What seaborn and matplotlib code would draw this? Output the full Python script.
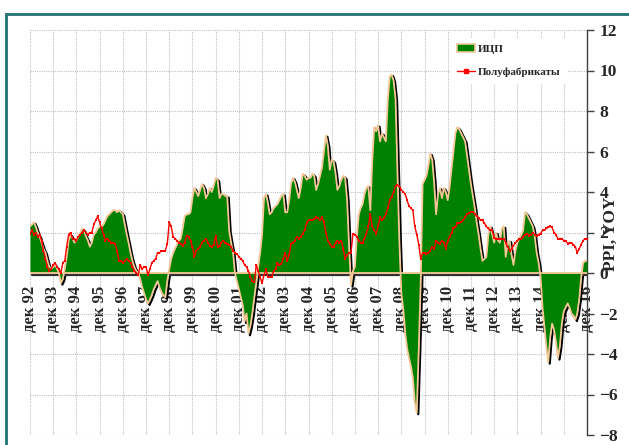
"""Producer prices (ИЦП) vs semi-finished goods (Полуфабрикаты), y/y, 1992-2016."""

import numpy as np
import pandas as pd
import matplotlib
matplotlib.use("Agg")
import matplotlib.pyplot as plt
import matplotlib.transforms as mtransforms
from matplotlib.lines import Line2D
from matplotlib.patches import Patch, Rectangle
import seaborn as sns

# monthly values, дек 92 .. дек 16
cpi = [
    2.3,  # дек 92
    2.4, 2.5, 2.3, 2.0, 1.8, 1.5, 1.2, 1.0, 0.6, 0.3, 0.2, 0.3,  # 1993
    0.4, 0.2, 0.0, -0.5, -0.3, 0.2, 0.8, 1.6, 1.9, 1.7, 1.5, 1.6,  # 1994
    1.8, 2.0, 2.2, 2.1, 1.8, 1.6, 1.3, 1.5, 1.9, 2.0, 2.2, 2.3,  # 1995
    2.3, 2.4, 2.6, 2.8, 2.9, 3.0, 3.1, 3.1, 3.0, 3.1, 3.0, 2.9,  # 1996
    2.4, 1.9, 1.5, 1.0, 0.6, 0.3, 0.1, 0.0, -0.3, -0.7, -1.0, -1.3,  # 1997
    -1.5, -1.3, -1.1, -0.8, -0.6, -0.4, -0.7, -0.95, -1.1, -1.2, -0.4, 0.2,  # 1998
    0.7, 1.0, 1.2, 1.4, 1.6, 1.7, 2.2, 2.8, 2.9, 2.9, 3.0, 3.7,  # 1999
    4.2, 4.0, 3.8, 4.1, 4.4, 4.2, 3.7, 3.9, 4.2, 4.0, 4.3, 4.7,  # 2000
    4.6, 3.7, 3.9, 3.9, 3.8, 3.8, 2.1, 1.5, 1.0, 0.0, -0.4, -0.8,  # 2001
    -1.2, -1.6, -2.4, -2.0, -3.0, -2.6, -2.0, -1.2, -0.5, 0.3, 1.0, 1.9,  # 2002
    3.7, 3.9, 3.5, 2.9, 3.0, 3.2, 3.3, 3.4, 3.6, 3.8, 3.9, 3.0,  # 2003
    3.0, 3.6, 4.4, 4.7, 4.5, 4.1, 3.7, 4.2, 4.9, 4.8, 4.6, 4.7,  # 2004
    4.7, 4.9, 4.8, 4.1, 4.4, 4.8, 5.2, 6.0, 6.8, 6.3, 5.1, 5.6,  # 2005
    5.5, 4.9, 4.1, 4.3, 4.6, 4.8, 4.7, 3.6, 1.3, -0.6, 0.1, 0.3,  # 2006
    1.8, 2.9, 3.2, 3.4, 3.9, 4.2, 4.3, 3.1, 5.6, 7.2, 7.0, 7.3,  # 2007
    6.5, 6.9, 6.7, 6.5, 8.5, 9.7, 9.8, 9.5, 8.6, 5.0, 1.5, -1.0,  # 2008
    -1.8, -3.0, -3.7, -4.2, -4.6, -5.2, -6.4, -6.9, -3.8, -0.6, 4.4, 4.6,  # 2009
    4.8, 5.3, 5.9, 5.6, 4.5, 2.9, 3.9, 4.2, 3.7, 4.2, 4.0, 3.6,  # 2010
    4.3, 5.2, 6.0, 6.9, 7.2, 7.1, 6.9, 6.7, 6.5, 5.8, 5.1, 4.4,  # 2011
    3.8, 3.2, 2.5, 1.9, 1.2, 0.6, 0.7, 0.8, 1.9, 2.3, 1.9, 1.5,  # 2012
    2.0, 1.6, 1.5, 2.2, 2.3, 0.8, 1.4, 1.6, 0.9, 0.4, 1.1, 1.5,  # 2013
    1.7, 1.9, 2.1, 3.0, 2.9, 2.7, 2.5, 2.3, 1.8, 1.0, 0.5, -0.2,  # 2014
    -1.7, -2.7, -3.6, -4.4, -3.2, -2.5, -2.8, -3.4, -4.2, -3.6, -2.5, -1.9,  # 2015
    -1.7, -1.5, -1.7, -2.0, -2.1, -2.3, -2.0, -1.3, -0.2, 0.5, 0.6, 0.6,  # 2016
]

semi = [
    1.95,  # дек 92
    2.1, 1.9, 2.0, 1.8, 1.9, 1.6, 1.1, 0.7, 0.3, 0.1, 0.2, 0.4,  # 1993
    0.5, 0.3, 0.2, 0.0, 0.5, 0.6, 1.3, 1.9, 2.0, 1.7, 1.7, 1.6,  # 1994
    1.8, 1.9, 2.0, 2.1, 2.0, 1.9, 2.0, 2.0, 2.4, 2.6, 2.8, 2.5,  # 1995
    2.2, 1.9, 1.6, 1.7, 1.6, 1.5, 1.5, 1.45, 1.1, 0.6, 0.6, 0.5,  # 1996
    0.6, 0.7, 0.6, 0.5, 0.3, 0.1, 0.0, -0.1, 0.4, 0.2, 0.3, 0.3,  # 1997
    -0.1, 0.2, 0.5, 0.6, 0.7, 1.0, 1.0, 1.1, 1.1, 1.1, 1.45, 2.5,  # 1998
    2.3, 1.8, 1.7, 1.6, 1.5, 1.45, 1.35, 1.5, 1.85, 1.8, 1.6, 1.3,  # 1999
    0.8, 1.1, 1.2, 1.3, 1.5, 1.6, 1.7, 1.5, 1.35, 1.3, 1.4, 1.85,  # 2000
    1.3, 1.35, 1.5, 1.6, 1.5, 1.45, 1.4, 1.3, 1.1, 1.0, 0.95, 0.8,  # 2001
    0.7, 0.6, 0.4, 0.3, 0.1, -0.2, -0.4, -0.45, 0.4, 0.1, -0.2, -0.5,  # 2002
    -0.1, 0.2, -0.2, -0.2, -0.2, 0.1, 0.2, 0.5, 0.4, 0.45, 0.7, 1.0,  # 2003
    0.6, 0.9, 1.45, 1.5, 1.6, 1.8, 1.7, 1.8, 1.95, 2.1, 2.45, 2.6,  # 2004
    2.6, 2.6, 2.65, 2.75, 2.7, 2.6, 2.75, 2.5, 2.0, 1.6, 1.45, 1.3,  # 2005
    1.3, 1.5, 1.6, 1.5, 1.6, 1.2, 0.7, 0.9, 1.0, 1.0, 1.95, 1.9,  # 2006
    1.8, 1.6, 1.5, 1.5, 1.7, 1.95, 2.3, 2.9, 2.3, 2.1, 1.95, 2.3,  # 2007
    2.75, 2.6, 2.7, 2.9, 3.2, 3.6, 3.75, 4.0, 4.3, 4.35, 4.3, 4.1,  # 2008
    4.0, 3.9, 3.6, 3.3, 3.2, 3.1, 2.3, 1.9, 1.4, 0.7, 1.0, 1.0,  # 2009
    0.95, 1.0, 1.1, 1.3, 1.2, 1.6, 1.5, 1.45, 1.6, 1.5, 1.2, 1.6,  # 2010
    1.8, 2.0, 2.2, 2.25, 2.45, 2.45, 2.5, 2.6, 2.75, 2.9, 2.95, 3.0,  # 2011
    3.0, 2.9, 2.8, 2.7, 2.6, 2.6, 2.45, 2.3, 2.2, 2.1, 2.1, 1.75,  # 2012
    1.7, 1.7, 1.7, 1.7, 1.7, 1.5, 1.3, 1.1, 1.2, 1.35, 1.5, 1.6,  # 2013
    1.7, 1.7, 1.8, 1.9, 1.95, 1.85, 1.9, 2.0, 1.9, 1.85, 1.9, 1.95,  # 2014
    2.1, 2.1, 2.2, 2.25, 2.3, 2.25, 2.0, 1.9, 1.7, 1.7, 1.7, 1.6,  # 2015
    1.6, 1.45, 1.5, 1.5, 1.4, 1.3, 1.0, 1.2, 1.4, 1.6, 1.7, 1.7,  # 2016
]

year_labels = [f"дек {y % 100:02d}" for y in range(1992, 2017)]
y_ticks = list(range(-8, 13, 2))

GREEN = "#008000"
TAN = "#f3c896"
RED = "#ff0000"

sns.set_style("white")
plt.rcParams["font.family"] = ["Liberation Serif", "DejaVu Serif"]
plt.rcParams["font.weight"] = "bold"

dates = pd.date_range("1992-12-01", periods=len(cpi), freq="MS")
df = pd.DataFrame({"date": dates, "cpi": cpi, "semi": semi})
zeros = np.zeros(len(df))

fig = plt.figure(figsize=(6.29, 4.45), dpi=100)
ax = fig.add_axes([30 / 629, 10 / 445, 557 / 629, 405 / 445])

# 3d-ish area: dark shadow, green fill, tan rim
shadow = mtransforms.offset_copy(ax.transData, fig=fig, x=1.5, y=-1.5, units="dots")
ax.plot(df["date"], df["cpi"], color="black", lw=1.6, transform=shadow, zorder=2)
ax.plot(df["date"], zeros, color="#303030", lw=1.6, transform=shadow, zorder=2)
ax.fill_between(df["date"], 0, df["cpi"], color=GREEN, lw=0, zorder=3)
ax.plot(df["date"], df["cpi"], color=TAN, lw=1.3, zorder=4)
ax.plot(df["date"], zeros, color=TAN, lw=1.3, zorder=4)

sns.lineplot(data=df, x="date", y="semi", ax=ax, color=RED, lw=1.0,
             marker="s", markersize=1.8, markeredgewidth=0, legend=False, zorder=5)

ax.set_xlim(dates[0], dates[-1])
ax.set_ylim(-8, 12)
ax.set_xlabel("")
ax.set_ylabel("")

# category labels sit on the zero line (set before the labels: it resets ticks)
ax.spines["bottom"].set_position(("data", 0))
for side in ["left", "top", "bottom"]:
    ax.spines[side].set_visible(False)
ax.spines["right"].set_color("#404040")
ax.spines["right"].set_linewidth(1)

ax.set_yticks(y_ticks)
ax.yaxis.tick_right()
ax.tick_params(axis="y", direction="out", length=5, width=1, color="#404040",
               labelsize=12.5, pad=4)
ax.set_xticks(dates[::12])
ax.set_xticklabels(year_labels, rotation=90, fontsize=12, fontweight="bold")
ax.tick_params(axis="x", length=0, pad=9)

ax.grid(True, color="#c0c0c0", linestyle=(0, (1, 1)), linewidth=0.8)
ax.set_axisbelow(True)

handles = [
    Patch(facecolor=GREEN, edgecolor=TAN, lw=1.2, label="ИЦП"),
    Line2D([], [], color=RED, lw=1, marker="s", markersize=2.5, label="Полуфабрикаты"),
]
leg = ax.legend(handles=handles, loc="upper right", bbox_to_anchor=(0.975, 0.995),
                frameon=True, facecolor="white", edgecolor="none", framealpha=1,
                prop={"weight": "bold", "size": 8}, labelspacing=1.2,
                handlelength=1.6, handletextpad=0.3, borderpad=0.6)
leg.set_zorder(10)

fig.text(611 / 629, 1 - 234 / 445, "PPI, YOY", rotation=90, ha="center", va="center",
         fontsize=12.5, fontweight="bold")

# outer frame, runs off the right and bottom edge
fig.add_artist(Rectangle((5.5 / 629, -0.05), 1.2, (445 - 13.5) / 445 + 0.05,
                         transform=fig.transFigure, fill=False,
                         edgecolor="#237371", lw=2))

fig.savefig("out.png", dpi=100)
